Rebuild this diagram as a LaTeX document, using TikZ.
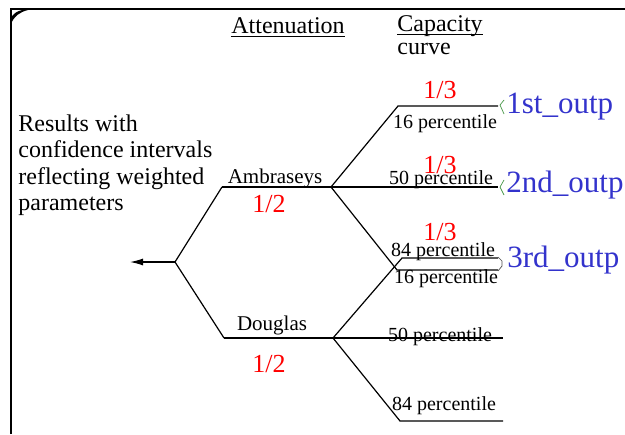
\documentclass[tikz,border=0pt]{standalone}
\usepackage{fontspec}
\setmainfont{Liberation Serif}
\usetikzlibrary{arrows.meta}
\definecolor{outblue}{RGB}{51,51,204}
\definecolor{tickgreen}{RGB}{70,150,70}

\begin{document}
\begin{tikzpicture}[x=0.5pt,y=-0.5pt,
  branch/.style={line width=0.6pt},
  pct/.style={inner sep=0pt,anchor=base,font=\fontsize{10}{12}\selectfont},
  model/.style={inner sep=0pt,anchor=base,font=\fontsize{10.5}{12}\selectfont},
  wgt/.style={inner sep=0pt,anchor=base,text=red,font=\fontsize{13}{15}\selectfont},
  outp/.style={inner sep=0pt,anchor=base west,text=outblue,font=\fontsize{15.5}{18}\selectfont},
  head/.style={inner sep=0pt,font=\fontsize{12}{14}\selectfont},
  uline/.style={line width=0.5pt},
  tick/.style={tickgreen,line width=0.35pt}]
\useasboundingbox (0,0) rectangle (625,434);
% frame
\draw[line width=1pt] (11,434) -- (11,9) -- (625,9);
\fill (11,24) .. controls (14,16) and (20,12) .. (28,10) -- (22,10) .. controls (16,12) .. (11,17) -- cycle;
% headings
\node[head,anchor=base] (att) at (288,33) {Attenuation};
\draw[uline] ([yshift=-1.6pt]att.base west) -- ([yshift=-1.6pt]att.base east);
\node[head,anchor=base west] (cap) at (397,31) {Capacity};
\draw[uline] ([yshift=-1.6pt]cap.base west) -- ([yshift=-1.6pt]cap.base east);
\node[head,anchor=base west] (curve) at (397,54) {curve};
\node[head,anchor=north west,align=left,font=\fontsize{12}{13.3}\selectfont] (res) at (18,114)
  {Results with\\confidence intervals\\reflecting weighted\\parameters};
% tree points
\coordinate (tip) at (130,262);
\coordinate (root) at (175,262);
\coordinate (ambk) at (222,187);
\coordinate (amb) at (331,187);
\coordinate (douk) at (224,338);
\coordinate (dou) at (333,338);
\coordinate (a16k) at (398,106);
\coordinate (a16e) at (498,106);
\coordinate (a50e) at (498,187);
\coordinate (a84k) at (397,270);
\coordinate (a84e) at (498,270);
\coordinate (d16k) at (402,258);
\coordinate (d16e) at (498,258);
\coordinate (d50e) at (503,338);
\coordinate (d84k) at (400,421);
\coordinate (d84e) at (503,421);
\draw[branch,-{Latex[length=6.5pt,width=3.5pt]}] (root) -- (tip);
\draw[branch] (ambk) -- (root) -- (douk);
\draw[branch] (ambk) -- (amb);
\draw[branch] (douk) -- (dou);
\draw[branch] (amb) -- (a16k) -- (a16e);
\draw[branch] (amb) -- (a50e);
\draw[branch] (amb) -- (a84k) -- (a84e);
\draw[branch] (dou) -- (d16k) -- (d16e);
\draw[branch] (dou) -- (d50e);
\draw[branch] (dou) -- (d84k) -- (d84e);
% labels
\node[model] (ambl) at (275,183) {Ambraseys};
\node[model] (doul) at (272,330) {Douglas};
\node[wgt] (w1) at (269,212) {1/2};
\node[wgt] (w2) at (269,372) {1/2};
\node[wgt] (w3) at (440,98) {1/3};
\node[wgt] (w4) at (440,173) {1/3};
\node[wgt] (w5) at (440,240) {1/3};
\node[pct] (p1) at (445,128) {16 percentile};
\node[pct] (p2) at (441,184) {50 percentile};
\node[pct] (p3) at (443,256) {84 percentile};
\node[pct] (p4) at (446,283) {16 percentile};
\node[pct] (p5) at (440,341) {50 percentile};
\node[pct] (p6) at (444,410) {84 percentile};
% outputs
\draw[tick] (504,100) -- (500,105) -- (504,114);
\draw[tick] (504,180) -- (500,187) -- (504,195);
\draw[tick,black!70] (498,257) -- (502,261) -- (502,266) -- (498,271);
\node[outp] (o1) at (506,113) {1st\_outp};
\node[outp] (o2) at (506,192) {2nd\_outp};
\node[outp] (o3) at (507,267) {3rd\_outp};
\end{tikzpicture}
\end{document}
